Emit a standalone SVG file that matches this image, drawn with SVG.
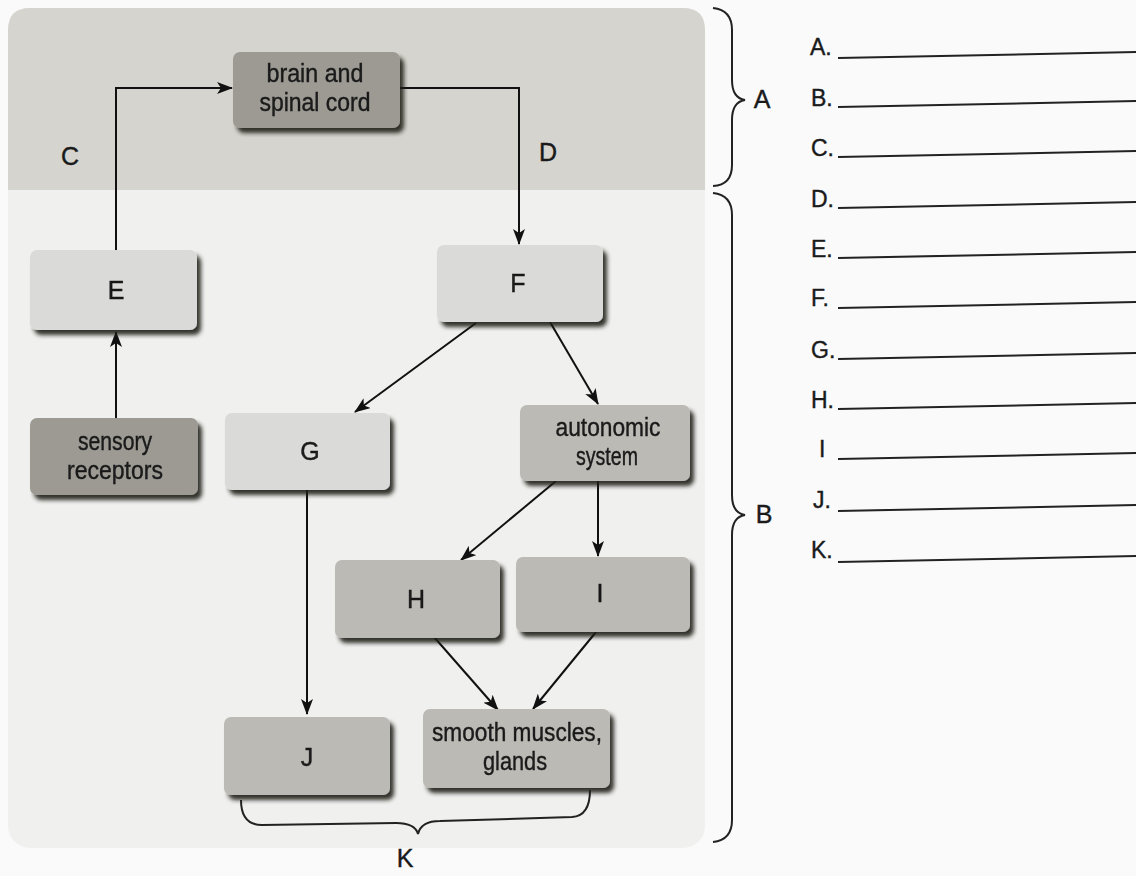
<svg xmlns="http://www.w3.org/2000/svg" width="1136" height="876" viewBox="0 0 1136 876">
<defs>
<filter id="sh" x="-10%" y="-10%" width="130%" height="140%">
<feDropShadow dx="4" dy="5" stdDeviation="2" flood-color="#1e1c16" flood-opacity="0.9"/>
</filter>
<marker id="ah" viewBox="0 0 16 12" refX="15" refY="6" markerWidth="16" markerHeight="12" markerUnits="userSpaceOnUse" orient="auto">
<path d="M0,0 L16,6 L0,12 L4,6 Z" fill="#111"/>
</marker>
<style>
.t{font-family:"Liberation Sans",Arial,sans-serif;font-size:25px;fill:#1a1a1a;stroke:#1a1a1a;stroke-width:0.4;text-anchor:middle}
.l{font-family:"Liberation Sans",Arial,sans-serif;font-size:23px;fill:#1a1a1a;stroke:#1a1a1a;stroke-width:0.4}
.dark{fill:#9c9a93}
.mid{fill:#bcbab5}
.light{fill:#dadad8}
.c{stroke:#111;stroke-width:2;fill:none}
.br{stroke:#222;stroke-width:2;fill:none}
.ln{stroke:#222;stroke-width:2}
</style>
</defs>
<rect width="1136" height="876" fill="#fafafa"/>
<g id="panel">
<rect x="8" y="8" width="697" height="840" rx="22" fill="#f0f0ef"/>
<path d="M30,8 H683 Q705,8 705,30 V190 H8 V30 Q8,8 30,8 Z" fill="#d6d4ce"/>
</g>
<g id="connectors">
<polyline class="c" points="116,250 116,88 232,88" marker-end="url(#ah)"/>
<polyline class="c" points="400,88 519,88 519,244" marker-end="url(#ah)"/>
<line class="c" x1="116" y1="418" x2="116" y2="332" marker-end="url(#ah)"/>
<line class="c" x1="476" y1="323" x2="355" y2="412" marker-end="url(#ah)"/>
<line class="c" x1="550" y1="322" x2="598" y2="404" marker-end="url(#ah)"/>
<line class="c" x1="556" y1="481" x2="461" y2="560" marker-end="url(#ah)"/>
<line class="c" x1="598" y1="481" x2="598" y2="556" marker-end="url(#ah)"/>
<line class="c" x1="307" y1="490" x2="307" y2="714" marker-end="url(#ah)"/>
<line class="c" x1="434" y1="637" x2="498" y2="710" marker-end="url(#ah)"/>
<line class="c" x1="596" y1="632" x2="533" y2="709" marker-end="url(#ah)"/>
</g>
<g id="brain" filter="url(#sh)"><rect class="dark" x="233" y="52" width="167" height="76" rx="7"/><text class="t" x="315" y="82" textLength="97" lengthAdjust="spacingAndGlyphs">brain and</text><text class="t" x="315" y="111" textLength="111" lengthAdjust="spacingAndGlyphs">spinal cord</text></g>
<g id="E" filter="url(#sh)"><rect class="light" x="30" y="250" width="167" height="80" rx="7"/><text class="t" x="116" y="299">E</text></g>
<g id="F" filter="url(#sh)"><rect class="light" x="437" y="245" width="166" height="77" rx="7"/><text class="t" x="518" y="292">F</text></g>
<g id="sensory" filter="url(#sh)"><rect class="dark" x="30" y="418" width="168" height="77" rx="7"/><text class="t" x="115" y="450" textLength="74" lengthAdjust="spacingAndGlyphs">sensory</text><text class="t" x="115" y="479" textLength="96" lengthAdjust="spacingAndGlyphs">receptors</text></g>
<g id="G" filter="url(#sh)"><rect class="light" x="225" y="413" width="165" height="77" rx="7"/><text class="t" x="310" y="460">G</text></g>
<g id="autonomic" filter="url(#sh)"><rect class="mid" x="520" y="405" width="170" height="76" rx="7"/><text class="t" x="608" y="436" textLength="105" lengthAdjust="spacingAndGlyphs">autonomic</text><text class="t" x="607" y="465" textLength="62" lengthAdjust="spacingAndGlyphs">system</text></g>
<g id="H" filter="url(#sh)"><rect class="mid" x="335" y="560" width="165" height="78" rx="7"/><text class="t" x="416" y="608">H</text></g>
<g id="I" filter="url(#sh)"><rect class="mid" x="516" y="557" width="174" height="75" rx="7"/><text class="t" x="600" y="602">I</text></g>
<g id="J" filter="url(#sh)"><rect class="mid" x="224" y="717" width="166" height="78" rx="7"/><text class="t" x="307" y="766">J</text></g>
<g id="smooth" filter="url(#sh)"><rect class="mid" x="423" y="709" width="187" height="79" rx="7"/><text class="t" x="517" y="741" textLength="170" lengthAdjust="spacingAndGlyphs">smooth muscles,</text><text class="t" x="515" y="770" textLength="64" lengthAdjust="spacingAndGlyphs">glands</text></g>
<g id="labels">
<text class="t" x="70" y="165">C</text>
<text class="t" x="548" y="161">D</text>
<text class="t" x="405" y="867">K</text>
<text class="t" x="762" y="108">A</text>
<text class="t" x="764" y="523">B</text>
</g>
<g id="braces">
<path class="br" d="M241,800 Q241,825 262,825 L396,823 Q415,823 418,834 Q421,821 440,821 L572,817 Q590,816 590,790"/>
<path class="br" d="M713,8 Q732,10 732,30 V80 Q732,98 745,100 Q732,102 732,120 V165 Q732,185 713,186"/>
<path class="br" d="M713,193 Q732,195 732,215 V495 Q732,513 745,515 Q732,517 732,535 V820 Q732,840 713,842"/>
</g>
<g id="answers">
<text class="l" x="810" y="55">A.</text><line class="ln" x1="838" y1="58" x2="1136" y2="52"/>
<text class="l" x="811" y="106">B.</text><line class="ln" x1="838" y1="107" x2="1136" y2="101"/>
<text class="l" x="811" y="156">C.</text><line class="ln" x1="838" y1="157" x2="1136" y2="151"/>
<text class="l" x="811" y="207">D.</text><line class="ln" x1="838" y1="208" x2="1136" y2="202"/>
<text class="l" x="811" y="257">E.</text><line class="ln" x1="838" y1="258" x2="1136" y2="252"/>
<text class="l" x="811" y="306">F.</text><line class="ln" x1="838" y1="308" x2="1136" y2="302"/>
<text class="l" x="811" y="358">G.</text><line class="ln" x1="838" y1="359" x2="1136" y2="353"/>
<text class="l" x="811" y="408">H.</text><line class="ln" x1="838" y1="409" x2="1136" y2="403"/>
<text class="l" x="819" y="457">I</text><line class="ln" x1="838" y1="459" x2="1136" y2="453"/>
<text class="l" x="813" y="508">J.</text><line class="ln" x1="838" y1="511" x2="1136" y2="505"/>
<text class="l" x="811" y="558">K.</text><line class="ln" x1="838" y1="562" x2="1136" y2="556"/>
</g>
</svg>
